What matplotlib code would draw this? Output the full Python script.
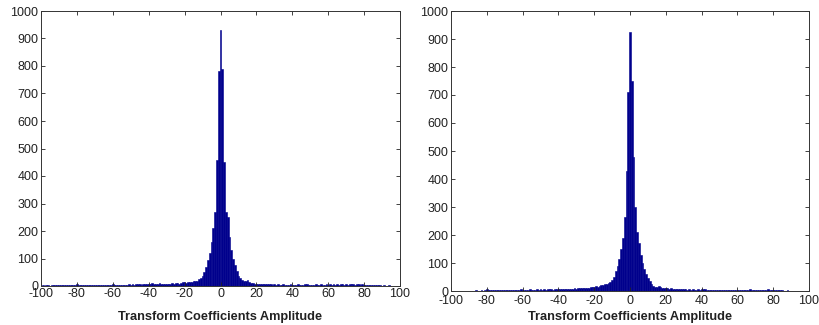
import numpy as np
import matplotlib
matplotlib.use("Agg")
import matplotlib.pyplot as plt

plt.rcParams['font.family'] = ['Liberation Sans', 'DejaVu Sans']
plt.rcParams['axes.unicode_minus'] = False

# bin centres -100 .. 100 (width 1)
bin_centers = list(range(-100, 101))

left_counts = [
    # -100 .. -21
    1, 2, 1, 2, 2, 1, 3, 2, 2, 3,
    2, 3, 2, 4, 3, 2, 3, 5, 3, 4,
    8, 3, 4, 3, 2, 4, 3, 3, 2, 4,
    3, 4, 3, 3, 5, 4, 3, 4, 5, 4,
    9, 4, 3, 4, 5, 4, 5, 4, 5, 6,
    5, 6, 5, 6, 7, 6, 5, 7, 8, 7,
    9, 8, 10, 7, 8, 9, 10, 8, 7, 9,
    8, 9, 8, 10, 9, 10, 11, 9, 12, 16,
    # -20 .. -11
    15, 12, 14, 13, 16, 18, 17, 20, 24, 28,
    # -10 .. -1
    38, 50, 70, 95, 120, 160, 210, 270, 460, 780,
    # 0
    930,
    # 1 .. 100
    790, 450, 270, 250, 180, 130, 100, 75, 55, 38,
    28, 22, 18, 20, 22, 15, 12, 10, 9, 8,
    8, 7, 8, 7, 6, 7, 6, 6, 5, 6,
    5, 6, 5, 5, 6, 5, 4, 5, 6, 5,
    5, 4, 6, 5, 4, 5, 6, 7, 5, 4,
    4, 5, 6, 4, 5, 6, 4, 5, 6, 5,
    6, 5, 7, 5, 6, 5, 6, 7, 5, 6,
    5, 6, 7, 6, 5, 7, 6, 5, 6, 5,
    4, 5, 3, 4, 3, 2, 3, 2, 2, 1,
    2, 1, 1, 2, 1, 1, 1, 0, 1, 0,
]

right_counts = [
    # -100 .. -21
    0, 0, 1, 0, 1, 0, 0, 1, 0, 1,
    1, 0, 1, 1, 2, 1, 1, 2, 1, 2,
    6, 2, 3, 2, 3, 4, 2, 3, 5, 3,
    3, 4, 3, 4, 5, 4, 3, 4, 5, 6,
    5, 4, 5, 4, 6, 5, 4, 5, 6, 5,
    6, 5, 6, 5, 6, 7, 6, 5, 7, 6,
    7, 6, 7, 8, 7, 6, 8, 7, 8, 9,
    8, 9, 10, 9, 10, 11, 10, 12, 13, 14,
    # -20 .. -11
    15, 17, 16, 18, 20, 22, 24, 25, 28, 32,
    # -10 .. -1
    40, 50, 70, 90, 115, 150, 190, 265, 430, 710,
    # 0
    925,
    # 1 .. 100
    750, 480, 300, 210, 170, 130, 100, 80, 60, 45,
    35, 25, 18, 16, 16, 17, 14, 10, 12, 9,
    9, 8, 9, 8, 7, 8, 7, 6, 7, 6,
    6, 5, 6, 5, 6, 5, 5, 6, 5, 7,
    8, 6, 5, 4, 5, 4, 5, 4, 3, 4,
    4, 3, 4, 5, 4, 3, 4, 3, 3, 4,
    3, 2, 3, 4, 5, 3, 6, 4, 3, 2,
    3, 4, 5, 3, 2, 3, 6, 4, 3, 2,
    3, 5, 2, 3, 2, 1, 1, 2, 1, 1,
    1, 0, 1, 0, 0, 1, 0, 0, 0, 0,
]

assert len(left_counts) == len(bin_centers) == len(right_counts)

x_ticks = list(range(-100, 101, 20))
y_ticks = list(range(0, 1001, 100))
xlabel = "Transform Coefficients Amplitude"

bar_color = "#00008C"

fig = plt.figure(figsize=(8.19, 3.25), dpi=100)
ax1 = fig.add_axes([41 / 819, 39 / 325, 359 / 819, 275 / 325])
ax2 = fig.add_axes([451 / 819, 34 / 325, 358 / 819, 280 / 325])

for ax, counts, xpad, lpad in ((ax1, left_counts, 1.5, 8.0),
                               (ax2, right_counts, 3.0, 3.0)):
    ax.bar(bin_centers, counts, width=1.0, color=bar_color,
           edgecolor=bar_color, linewidth=0.4)
    ax.set_xlim(-100, 100)
    ax.set_ylim(0, 1000)
    ax.set_xticks(x_ticks)
    ax.set_yticks(y_ticks)
    ax.tick_params(direction='in', top=True, right=True, length=3,
                   width=0.6, labelsize=9, colors='#222222')
    ax.tick_params(axis='x', pad=xpad)
    ax.tick_params(axis='y', pad=2)
    for s in ax.spines.values():
        s.set_linewidth(0.7)
        s.set_color('#333333')
    ax.set_xlabel(xlabel, fontsize=9.2, fontweight='bold', labelpad=lpad,
                  color='#222222')

fig.savefig("out.png", dpi=100, facecolor='white')
